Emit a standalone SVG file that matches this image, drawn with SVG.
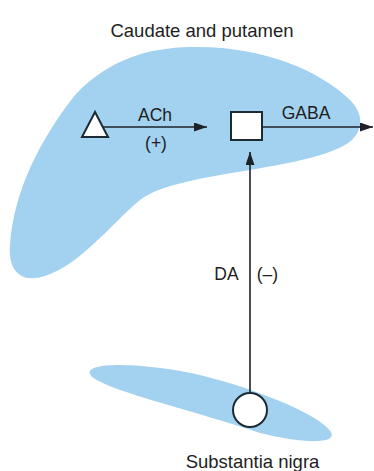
<svg xmlns="http://www.w3.org/2000/svg" width="374" height="471" viewBox="0 0 374 471">
<style>
.region{fill:#a3d2f1;stroke:none}
.node{fill:#ffffff;stroke:#1c2a33;stroke-width:2}
.conn{stroke:#1c2228;stroke-width:1.6;fill:none}
text{font-family:"Liberation Sans",Arial,sans-serif;fill:#1e1e1e;text-anchor:middle}
.title{font-size:18.5px}
.lbl{font-size:17.5px}
</style>
<defs>
<marker id="ah" markerUnits="userSpaceOnUse" markerWidth="14" markerHeight="10" refX="13" refY="4.5" orient="auto">
<path d="M0,0 L13,4.5 L0,9 Z" fill="#1c2228"/>
</marker>
</defs>
<rect width="374" height="471" fill="#ffffff"/>
<g id="caudate-putamen">
<path class="region" d="M190,47 C260,45 320,70 350,100 C365,115 362,130 352,140 C335,155 290,163 250,170 C200,178 160,185 140,200 C110,225 80,265 45,276 C20,284 8,270 10,245 C14,190 40,140 75,95 C110,58 150,48 190,47 Z"/>
<text class="title" x="202" y="37">Caudate and putamen</text>
</g>
<g id="substantia-nigra">
<path class="region" d="M90,374 C85,362 140,362 200,375 C260,390 320,415 331,432 C338,445 300,443 260,433 C200,412 95,388 90,374 Z"/>
<text class="title" x="252.5" y="468">Substantia nigra</text>
</g>
<g id="connectors">
<line class="conn" x1="103" y1="127" x2="207" y2="127" marker-end="url(#ah)"/>
<line class="conn" x1="262" y1="127" x2="373" y2="127" marker-end="url(#ah)"/>
<line class="conn" x1="250" y1="393" x2="250" y2="152" marker-end="url(#ah)"/>
<text class="lbl" x="155" y="121">ACh</text>
<text class="lbl" x="156" y="149">(+)</text>
<text class="lbl" x="306" y="119">GABA</text>
<text class="lbl" x="226.5" y="280">DA</text>
<text class="lbl" x="267.5" y="280">(–)</text>
</g>
<g id="ach-neuron">
<polygon class="node" points="95,112 82,137 108,137"/>
</g>
<g id="gaba-neuron">
<rect class="node" x="231" y="112" width="31" height="28"/>
</g>
<g id="da-neuron">
<circle class="node" cx="250" cy="410" r="17"/>
</g>
</svg>
